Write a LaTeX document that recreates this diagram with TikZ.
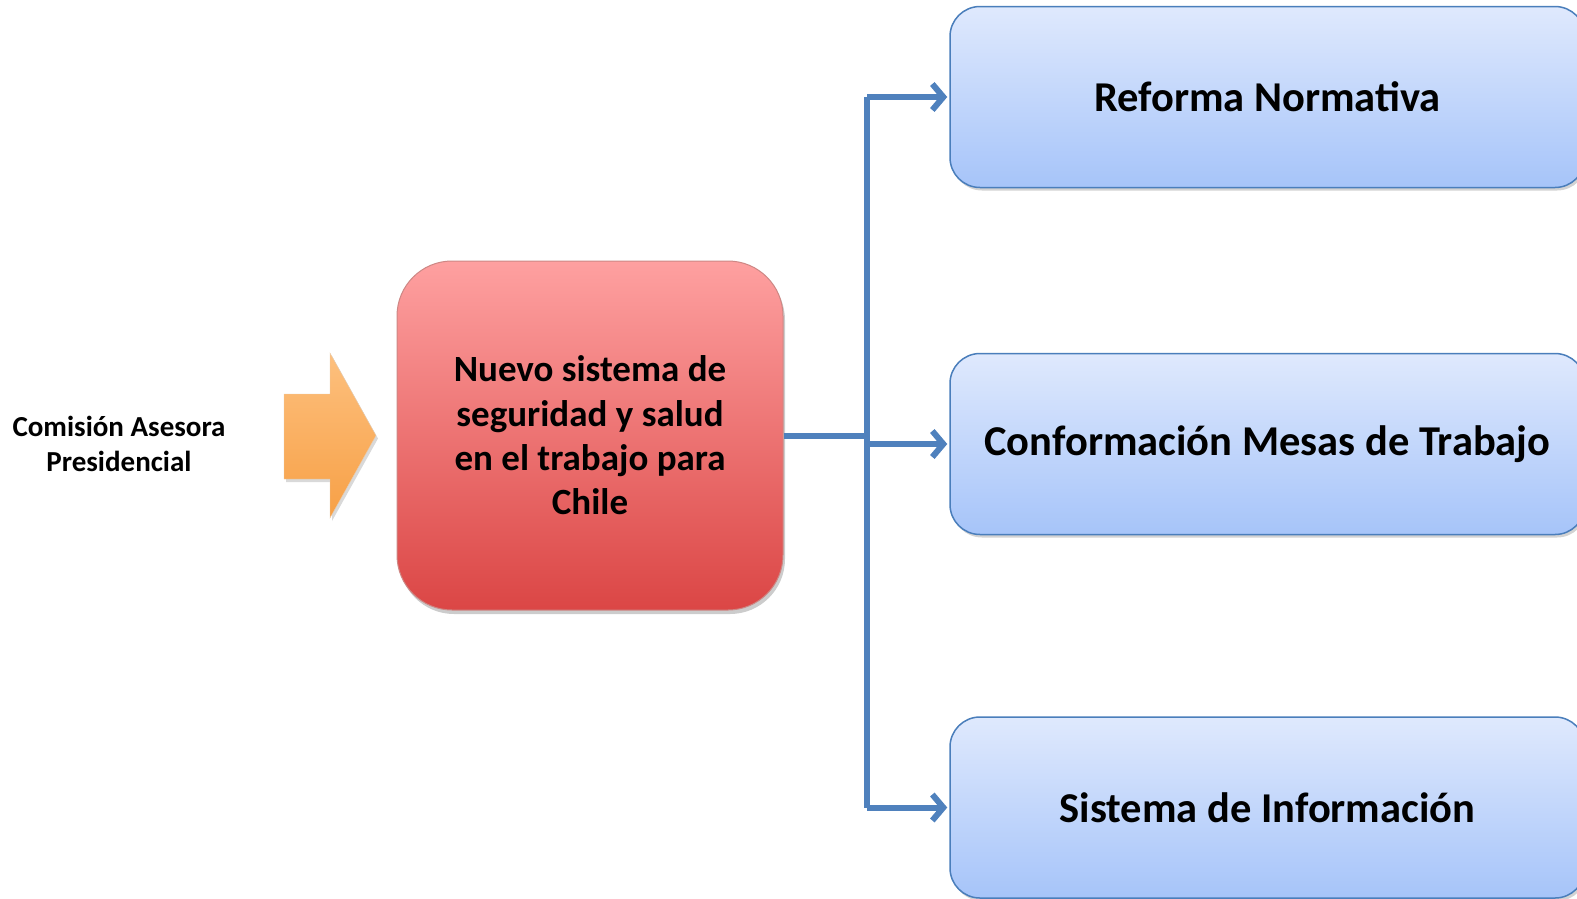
\documentclass[tikz,border=0pt]{standalone}
\usepackage{fontspec}
\setmainfont{Carlito}
\usetikzlibrary{shadows,arrows.meta}
\definecolor{connblue}{HTML}{4F81BD}
\definecolor{boxedge}{HTML}{4A7EBB}
\definecolor{bluetop}{HTML}{DFE9FD}
\definecolor{bluebot}{HTML}{A6C4F9}
\definecolor{redtop}{HTML}{FEA0A0}
\definecolor{redbot}{HTML}{DB4645}
\definecolor{rededge}{HTML}{B85450}
\definecolor{orangetop}{HTML}{FDC07E}
\definecolor{orangebot}{HTML}{F7A046}
\begin{document}
\begin{tikzpicture}[x=1pt,y=-1pt,
  bluebox/.style={draw=boxedge, line width=1.5pt, rounded corners=30pt,
    top color=bluetop, bottom color=bluebot, minimum width=635pt, minimum height=181pt,
    inner sep=0pt, font=\bfseries\fontsize{42.5}{50}\selectfont,
    drop shadow={shadow xshift=2pt, shadow yshift=-3pt, opacity=0.35}},
  redbox/.style={draw=rededge!70, line width=1pt, rounded corners=55pt,
    top color=redtop, bottom color=redbot, minimum width=386pt, minimum height=349pt,
    inner sep=0pt, align=center, font=\bfseries\fontsize{37}{44.3}\selectfont,
    drop shadow={shadow xshift=2pt, shadow yshift=-4pt, opacity=0.4}},
  conn/.style={draw=connblue, line width=6pt},
  connarrow/.style={conn, -{Straight Barb[length=11pt, width=26pt, line width=6pt]}},
  lbl/.style={align=center, font=\bfseries\fontsize{29}{34.5}\selectfont}]
\useasboundingbox (0,0) rectangle (1577,898);
% orange arrow
\path[top color=orangetop, bottom color=orangebot, draw=orangebot!80!black!40, line width=0.4pt,
  drop shadow={shadow xshift=2pt, shadow yshift=-3pt, opacity=0.3}]
  (284,394) -- (330,394) -- (330,353) -- (376,435.5) -- (330,518) -- (330,479) -- (284,479) -- cycle;
\node[lbl] (lab) at (119,444) {Comisión Asesora\\Presidencial};
\node[redbox] (red) at (590,435.5) {Nuevo sistema de\\seguridad y salud\\en el trabajo para\\Chile};
\node[bluebox] (b1) at (1267.5,97) {Reforma Normativa};
\node[bluebox] (b2) at (1267.5,444) {Conformación Mesas de Trabajo};
\node[bluebox] (b3) at (1267.5,807.5) {Sistema de Información};
\coordinate (j) at (867,437);
\draw[conn] (red.east) -- (red.east -| j);
\draw[conn] (j |- b1.west) -- (j |- b3.west);
\draw[connarrow] (j |- b1.west) -- ([xshift=-2pt]b1.west);
\draw[connarrow] (j |- b2.west) -- ([xshift=-2pt]b2.west);
\draw[connarrow] (j |- b3.west) -- ([xshift=-2pt]b3.west);
\end{tikzpicture}
\end{document}
